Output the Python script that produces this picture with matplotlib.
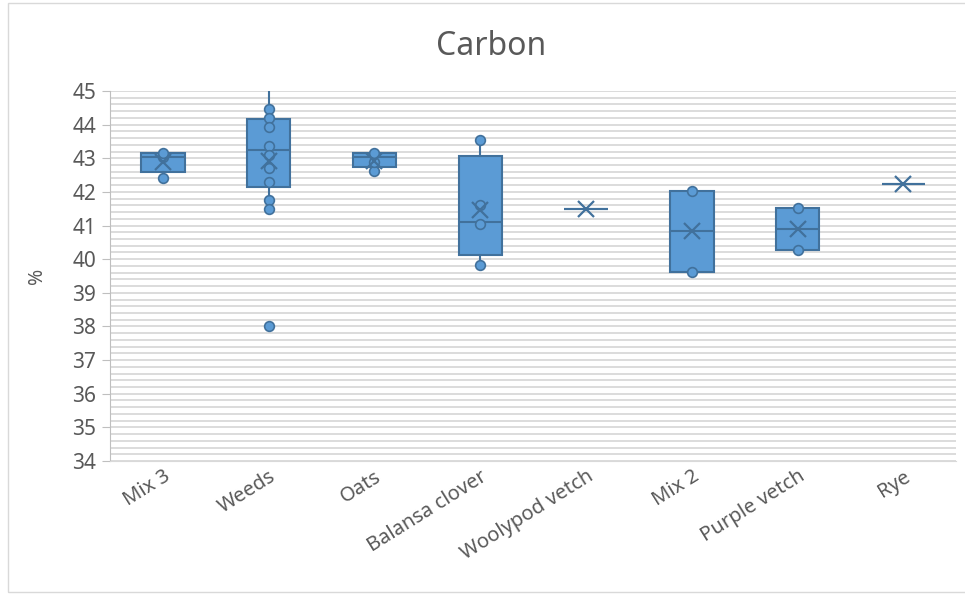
import matplotlib.pyplot as plt
from matplotlib.ticker import MultipleLocator
from matplotlib.patches import Rectangle

categories = ["Mix 3", "Weeds", "Oats", "Balansa clover", "Woolypod vetch",
              "Mix 2", "Purple vetch", "Rye"]

# box statistics per cover crop (% carbon)
q1 = [42.58, 42.16, 42.73, 40.12, 41.49, 39.63, 40.28, 42.24]
medians = [43.05, 43.25, 43.05, 41.10, 41.49, 40.85, 40.90, 42.24]
q3 = [43.17, 44.17, 43.15, 43.08, 41.49, 42.04, 41.51, 42.24]
whis_lo = [42.42, 41.48, 42.63, 39.83, 41.49, 39.63, 40.28, 42.24]
whis_hi = [43.17, 46.85, 43.15, 43.54, 41.49, 42.04, 41.51, 42.24]
means = [42.88, 42.92, 42.93, 41.47, 41.49, 40.84, 40.89, 42.24]

# individual samples shown as dots
points = [
    [42.42, 43.05, 43.15],
    [46.85, 44.46, 44.19, 43.92, 43.37, 43.10, 42.70, 42.29, 41.76, 41.48, 38.0],
    [42.63, 42.90, 43.15],
    [39.83, 41.04, 41.62, 43.54],
    [],
    [39.63, 42.04],
    [40.28, 41.51],
    [],
]

fill = "#5B9BD5"
edge = "#41719C"
grid = "#D9D9D9"
text = "#595959"

plt.rcParams["font.family"] = ["Noto Sans", "DejaVu Sans"]

fig = plt.figure(figsize=(9.65, 5.95), dpi=100)
ax = fig.add_axes([0.114, 0.2252, 0.877, 0.6218])

stats = []
for i, name in enumerate(categories):
    stats.append(dict(label=name, q1=q1[i], med=medians[i], q3=q3[i],
                      whislo=whis_lo[i], whishi=whis_hi[i], fliers=[]))

pos = list(range(1, len(categories) + 1))
ax.bxp(stats, positions=pos, widths=0.41, patch_artist=True,
       showcaps=False, showfliers=False,
       boxprops=dict(facecolor=fill, edgecolor=edge, linewidth=1.5),
       medianprops=dict(color=edge, linewidth=1.5),
       whiskerprops=dict(color=edge, linewidth=1.5))

for p, vals in zip(pos, points):
    ax.plot([p] * len(vals), vals, "o", ms=7, mfc=fill, mec=edge, mew=1.2,
            zorder=4)

ax.plot(pos, means, "x", ms=11, mew=1.6, color=edge, zorder=5)

ax.set_xlim(0.5, 8.5)
ax.set_ylim(34, 45)
ax.set_yticks(range(34, 46))
ax.yaxis.set_minor_locator(MultipleLocator(0.2))
ax.grid(True, which="both", axis="y", color=grid, linewidth=1.3)
ax.set_axisbelow(True)

ax.tick_params(axis="y", which="major", length=6, color="#BFBFBF",
               labelsize=15, labelcolor=text, pad=4)
ax.tick_params(axis="y", which="minor", length=0)
ax.tick_params(axis="x", length=0, labelsize=14.5, labelcolor=text, pad=4)
ax.set_xticks(pos)
ax.set_xticklabels(categories, rotation=32, ha="right",
                   rotation_mode="anchor")

for s in ("top", "right"):
    ax.spines[s].set_visible(False)
ax.spines["left"].set_color("#BFBFBF")
ax.spines["bottom"].set_color(grid)

ax.set_ylabel("%", fontsize=14, color=text, labelpad=18)
fig.text(0.509, 0.922, "Carbon", ha="center", va="center", fontsize=23,
         color=text)

fig.patches.append(Rectangle((8 / 965, 3 / 595), 1.0, 0.99, fill=False,
                             edgecolor="#D9D9D9", linewidth=1,
                             transform=fig.transFigure, figure=fig))

fig.savefig("out.png", dpi=100)
